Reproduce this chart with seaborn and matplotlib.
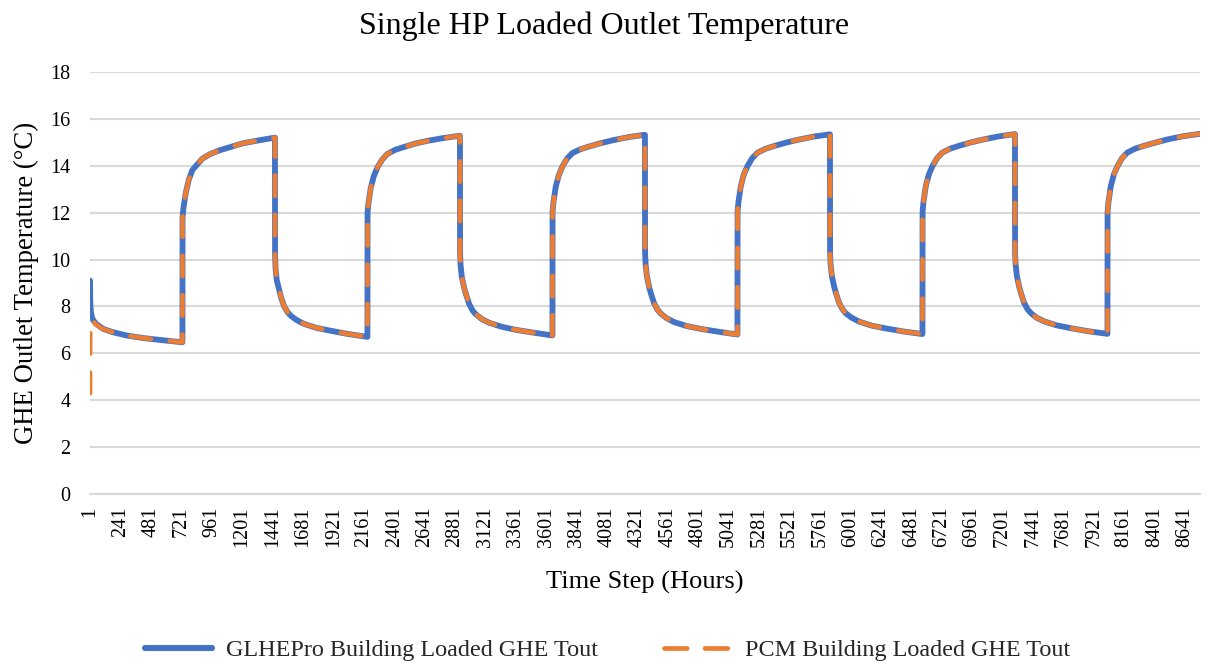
import matplotlib
matplotlib.use("Agg")
import matplotlib.pyplot as plt
import seaborn as sns
import numpy as np
import pandas as pd
from matplotlib.lines import Line2D

# ---------------- data ----------------
TITLE = "Single HP Loaded Outlet Temperature"
XLABEL = "Time Step (Hours)"
YLABEL = "GHE Outlet Temperature (°C)"
SERIES_NAMES = ["GLHEPro Building Loaded GHE Tout", "PCM Building Loaded GHE Tout"]

# first (initial) month, hours 1..730
first_hours = [1, 2, 4, 8, 15, 27, 50, 105, 180, 289, 420, 552, 730]
first_glhe = [9.1, 8.4, 8.0, 7.75, 7.55, 7.4, 7.25, 7.04, 6.9, 6.76, 6.65, 6.57, 6.47]
first_pcm = [4.3, 6.6, 7.3, 7.45, 7.45, 7.35, 7.22, 7.03, 6.9, 6.76, 6.65, 6.57, 6.47]

# hour offsets inside each later 730-hour month
heat_offsets = [1, 5, 15, 34, 50, 73, 100, 126, 170, 231, 330, 441, 580, 730]
cool_offsets = [1, 8, 26, 50, 79, 115, 157, 220, 289, 380, 472, 600, 730]

# month start hours (hour before the step change)
month_starts = [730, 1460, 2190, 2920, 3650, 4380, 5110, 5840, 6570, 7300, 8030]
month_kind = ["cool", "heat", "cool", "heat", "cool", "heat", "cool", "heat", "cool", "heat", "cool"]

m02 = [11.8, 12.2, 12.83, 13.4, 13.82, 14.04, 14.3, 14.5, 14.65, 14.8, 14.95, 15.08, 15.2]
m03 = [10.2, 9.6, 9.1, 8.7, 8.35, 8.0, 7.75, 7.6, 7.42, 7.25, 7.08, 6.96, 6.82, 6.7]
m04 = [12.0, 12.4, 13.05, 13.55, 13.93, 14.25, 14.5, 14.68, 14.8, 14.95, 15.06, 15.18, 15.28]
m05 = [10.3, 9.75, 9.25, 8.78, 8.48, 8.1, 7.82, 7.66, 7.47, 7.3, 7.13, 7.0, 6.88, 6.76]
m06 = [12.05, 12.45, 13.1, 13.6, 13.97, 14.3, 14.54, 14.7, 14.82, 14.96, 15.08, 15.22, 15.32]
m07 = [10.3, 9.8, 9.3, 8.8, 8.5, 8.12, 7.85, 7.69, 7.5, 7.33, 7.16, 7.04, 6.92, 6.8]
m08 = [12.05, 12.45, 13.12, 13.62, 13.98, 14.31, 14.55, 14.72, 14.84, 14.98, 15.1, 15.24, 15.34]
m09 = [10.3, 9.8, 9.3, 8.82, 8.52, 8.14, 7.87, 7.7, 7.52, 7.35, 7.18, 7.06, 6.93, 6.82]
m10 = [12.05, 12.45, 13.12, 13.62, 13.98, 14.32, 14.56, 14.73, 14.85, 14.99, 15.11, 15.25, 15.35]
m11 = [10.3, 9.8, 9.3, 8.82, 8.52, 8.14, 7.87, 7.71, 7.52, 7.36, 7.19, 7.07, 6.94, 6.83]
m12 = [12.05, 12.45, 13.12, 13.62, 13.98, 14.32, 14.56, 14.73, 14.85, 14.99, 15.12, 15.26, 15.36]
month_values = [m02, m03, m04, m05, m06, m07, m08, m09, m10, m11, m12]

x_tick_labels = [str(v) for v in range(1, 8761, 240)]
y_ticks = [0, 2, 4, 6, 8, 10, 12, 14, 16, 18]

# ---------------- build table ----------------
hours = list(first_hours)
glhe = list(first_glhe)
pcm = list(first_pcm)
for start, kind, vals in zip(month_starts, month_kind, month_values):
    offs = heat_offsets if kind == "heat" else cool_offsets
    for o, v in zip(offs, vals):
        hours.append(start + o)
        glhe.append(v)
        pcm.append(v)
df = pd.DataFrame({"hour": hours, "glhe": glhe, "pcm": pcm})

# ---------------- plot ----------------
sns.set_theme(style="white")
plt.rcParams["font.family"] = ["Liberation Serif", "DejaVu Serif"]

fig, ax = plt.subplots(figsize=(12.08, 6.66), dpi=100)
fig.subplots_adjust(left=0.0745, right=0.9934, top=0.892, bottom=0.2583)

blue = "#4472C4"
orange = "#ED7D31"

sns.lineplot(data=df, x="hour", y="glhe", ax=ax, color=blue, linewidth=4.2,
             sort=False, estimator=None, solid_joinstyle="round", solid_capstyle="round")
sns.lineplot(data=df, x="hour", y="pcm", ax=ax, color=orange, linewidth=3.3,
             sort=False, estimator=None)
pline = ax.lines[-1]
pline.set_dashes([4.5, 4.1])
pline.set_dash_capstyle("round")
pline.set_dash_joinstyle("round")

ax.set_xlim(0.5, 8760.5)
ax.set_ylim(0, 18)
ax.set_yticks(y_ticks)
ax.set_yticklabels([str(v) for v in y_ticks])
ax.set_xticks([int(s) for s in x_tick_labels])
ax.set_xticklabels(x_tick_labels, rotation=90)

ax.grid(axis="y", color="#d9d9d9", linewidth=1.5)
ax.grid(axis="x", visible=False)
ax.set_axisbelow(True)
for s in ["left", "right", "top"]:
    ax.spines[s].set_visible(False)
ax.spines["bottom"].set_color("#d9d9d9")
ax.spines["bottom"].set_linewidth(1.5)

ax.tick_params(axis="y", length=0, pad=14, labelsize=14.5, labelcolor="#000000")
ax.tick_params(axis="x", length=5, width=1.2, color="#d9d9d9", direction="out",
               pad=4, labelsize=14.5, labelcolor="#000000")

ax.set_xlabel(XLABEL, fontsize=19, labelpad=17, color="black")
ax.set_ylabel(YLABEL, fontsize=19.3, labelpad=8, color="black")
fig.suptitle(TITLE, x=0.5, y=0.982, fontsize=23, color="black")

handles = [Line2D([0], [0], color=blue, linewidth=4.4, solid_capstyle="round"),
           Line2D([0], [0], color=orange, linewidth=3.4, dashes=[4.8, 3.8],
                  dash_capstyle="round")]
fig.legend(handles, SERIES_NAMES, loc="center", bbox_to_anchor=(0.503, 0.024),
           ncol=2, frameon=False, fontsize=17.4, handlelength=2.8,
           columnspacing=2.75, handletextpad=0.55)

fig.savefig("out.png", dpi=100)
